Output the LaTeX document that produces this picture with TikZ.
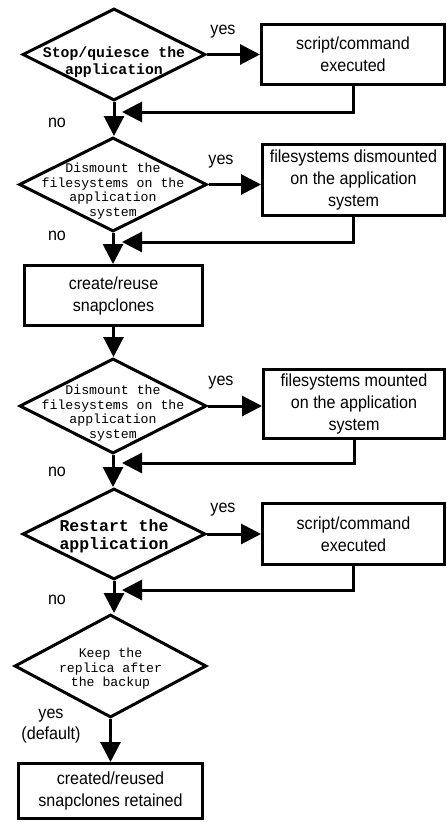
\documentclass[tikz,border=0pt]{standalone}
\usepackage{fontspec}
\setmainfont{Liberation Sans}[FakeStretch=0.92]
\setmonofont{Liberation Mono}
\usetikzlibrary{shapes.geometric, arrows.meta}

\begin{document}
\begin{tikzpicture}
            [x=1pt, y=-1pt, line width=3pt, >={Triangle[length=20pt,width=20pt]},
             decision/.style={shape=diamond, draw=black, inner sep=0pt},
             process/.style={shape=rectangle, draw=black, align=center, font=\fontsize{17.5}{22}\selectfont},
             ask/.style={align=center, font=\fontsize{13.2}{14.5}\selectfont\ttfamily},
             askbold/.style={align=center, font=\fontsize{14.8}{17}\selectfont\ttfamily\bfseries},
             asklarge/.style={align=center, font=\fontsize{16.5}{18}\selectfont\ttfamily\bfseries},
             answer/.style={align=center, font=\fontsize{17.5}{21}\selectfont}]
            \useasboundingbox (0,0) rectangle (447,822);

            \node[decision, minimum width=183pt, minimum height=92pt] (d1) at (114,54.5) {};
            \node[askbold] (d1t) at (114,62) {Stop/quiesce the\\application};
            \node[process, minimum width=183pt, minimum height=60pt] (r1) at (353,54.5) {script/command\\executed};
            \coordinate (j1) at (122,112);

            \node[decision, minimum width=188pt, minimum height=94pt] (d2) at (113,184.5) {};
            \node[ask] (d2t) at (113,191) {Dismount the\\filesystems on the\\application\\system};
            \node[process, minimum width=182pt, minimum height=71pt] (r2) at (353.5,180) {filesystems dismounted\\on the application\\system};
            \coordinate (j2) at (122,242);

            \node[process, minimum width=178pt, minimum height=60pt] (c1) at (113.5,295.5) {create/reuse\\snapclones};

            \node[decision, minimum width=187pt, minimum height=95pt] (d3) at (113,406) {};
            \node[ask] (d3t) at (113,413) {Dismount the\\filesystems on the\\application\\system};
            \node[process, minimum width=181pt, minimum height=69pt] (r3) at (354,404) {filesystems mounted\\on the application\\system};
            \coordinate (j3) at (122,463);

            \node[decision, minimum width=183pt, minimum height=91pt] (d4) at (114,534) {};
            \node[asklarge] (d4t) at (114,536) {Restart the\\application};
            \node[process, minimum width=182pt, minimum height=61pt] (r4) at (353.5,534) {script/command\\executed};
            \coordinate (j4) at (122,590);

            \node[decision, minimum width=192pt, minimum height=103pt] (d5) at (110.5,666) {};
            \node[ask] (d5t) at (110.5,669) {Keep the\\replica after\\the backup};
            \node[process, minimum width=184pt, minimum height=55pt] (k1) at (110.5,791) {created/reused\\snapclones retained};

            \node[answer] (y1) at (223,32) {yes};
            \node[answer] (y2) at (221,162) {yes};
            \node[answer] (y3) at (221,383) {yes};
            \node[answer] (y4) at (223,510) {yes};
            \node[answer] (n1) at (57,123) {no};
            \node[answer] (n2) at (57,236) {no};
            \node[answer] (n3) at (57,472) {no};
            \node[answer] (n4) at (57,600) {no};
            \node[answer] (y5) at (51,726) {yes\\(default)};

            \draw[->] (d1.east) -- (d1.east -| r1.west);
            \draw[->] (d2.east) -- (d2.east -| r2.west);
            \draw[->] (d3.east) -- (d3.east -| r3.west);
            \draw[->] (d4.east) -- (d4.east -| r4.west);

            \draw[->] (r1.south) |- (j1);
            \draw[->] (r2.south) |- (j2);
            \draw[->] (r3.south) |- (j3);
            \draw[->] (r4.south) |- (j4);

            \draw[->] (d1.south) -- (d1.south |- d2.north);
            \draw[->] (d2.south) -- (d2.south |- c1.north);
            \draw[->] (c1.south) -- (c1.south |- d3.north);
            \draw[->] (d3.south) -- (d3.south |- d4.north);
            \draw[->] (d4.south) -- (d4.south |- d5.north);
            \draw[->] (d5.south) -- (d5.south |- k1.north);
        \end{tikzpicture}
\end{document}
